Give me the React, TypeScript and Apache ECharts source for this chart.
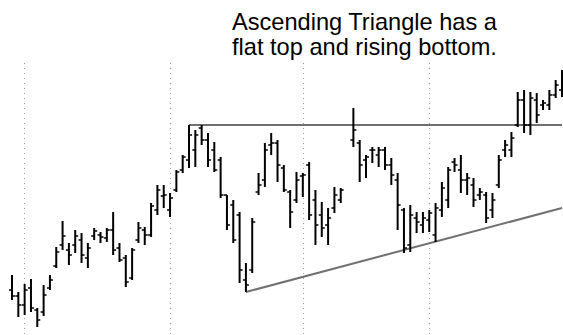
import React, { useEffect, useRef } from "react";
import * as echarts from "echarts";

// Daily OHLC bars (price units); null marks a missing session
const opens: (number | null)[] = [
  31.0, 30.4, 29.5, 31.2, 29.0, 28.8, 31.2, 33.4, 35.5, 35.0,
  35.5, 36.0, 34.2, 36.4, 36.5, 36.2, 37.0, 35.2, 34.2, 32.2,
  36.0, 37.0, 36.5, 39.0, 40.4, 39.0, 41.0, 43.0, 44.0, 45.0,
  47.2, 46.0, 45.0, 44.0, 40.5, 39.5, 38.5, 32.0, 33.0, 40.8,
  42.0, 45.5, 45.7, 43.2, 40.8, 40.0, 42.4, 43.5, 40.0, 38.5,
  37.5, 39.2, 40.0, null, 46.0, 45.7, 44.0, 45.0, 44.5, 45.0,
  43.5, 42.0, 39.0, 35.5, 38.2, 37.5, 38.0, 36.5, 39.0, 40.0,
  43.8, 43.0, 42.0, 41.5, 40.5, 40.5, 39.0, 41.5, 45.0, 45.0,
  47.5, 50.0, 47.5, 50.0, 49.5, 49.5, 50.5, 51.0,
];
const highs: (number | null)[] = [
  32.5, 30.8, 31.6, 32.1, 29.2, 31.5, 32.5, 35.3, 37.9, 35.7,
  37.0, 36.7, 35.7, 37.2, 36.8, 37.2, 38.8, 35.7, 34.5, 35.2,
  37.8, 37.3, 39.7, 41.5, 41.5, 40.7, 43.0, 44.5, 47.5, 47.0,
  47.5, 46.7, 45.8, 44.3, 40.5, 40.0, 38.8, 33.7, 38.2, 42.7,
  45.7, 46.7, 46.0, 43.5, 41.0, 42.8, 42.7, 43.8, 41.0, 39.8,
  39.2, 41.3, 41.2, null, 49.2, 46.0, 44.5, 45.3, 45.3, 45.3,
  44.2, 42.7, 39.2, 39.5, 38.8, 38.8, 39.0, 39.7, 41.8, 43.3,
  44.2, 44.5, 42.7, 42.2, 41.2, 40.8, 40.7, 44.5, 46.0, 46.8,
  50.8, 51.0, 50.8, 50.7, 50.0, 51.0, 52.0, 53.0,
];
const lows: (number | null)[] = [
  30.0, 28.3, 28.5, 28.8, 27.3, 28.4, 31.0, 33.2, 35.0, 33.5,
  34.7, 33.7, 33.2, 36.0, 35.7, 35.8, 34.5, 33.8, 31.3, 32.0,
  35.7, 35.5, 36.3, 38.5, 39.2, 38.3, 40.8, 42.7, 43.2, 43.3,
  45.5, 43.3, 42.8, 40.2, 37.0, 35.7, 31.7, 30.8, 32.7, 40.5,
  41.3, 44.5, 41.8, 40.8, 37.2, 39.7, 40.3, 38.0, 35.5, 36.3,
  35.5, 38.7, 39.7, null, 45.3, 41.8, 42.2, 43.7, 43.3, 43.0,
  41.5, 37.0, 34.7, 34.8, 36.7, 36.7, 36.8, 35.8, 38.3, 39.2,
  42.8, 40.7, 40.5, 39.3, 40.0, 37.7, 38.2, 41.2, 44.3, 44.3,
  47.3, 46.7, 46.5, 47.7, 49.0, 49.0, 50.2, 50.3,
];
const closes: (number | null)[] = [
  30.4, 29.5, 31.0, 29.2, 28.0, 30.5, 32.0, 34.8, 36.4, 34.5,
  36.4, 34.5, 35.2, 36.9, 36.3, 37.0, 35.0, 34.0, 31.8, 35.0,
  37.2, 36.5, 39.4, 41.0, 40.5, 40.2, 42.8, 44.3, 46.5, 46.5,
  46.0, 44.0, 43.0, 40.5, 37.5, 36.0, 33.0, 31.5, 37.8, 41.5,
  45.0, 45.7, 43.5, 41.0, 38.8, 42.0, 42.5, 38.5, 37.5, 37.2,
  38.2, 40.5, 41.0, null, 47.0, 43.5, 44.3, 45.0, 45.0, 43.5,
  42.5, 39.5, 35.2, 38.5, 37.8, 38.2, 38.7, 39.2, 41.2, 43.0,
  43.5, 42.0, 42.2, 40.0, 40.8, 38.2, 40.0, 44.0, 45.5, 46.2,
  50.0, 47.5, 50.2, 48.5, 49.7, 50.5, 51.5, 52.5,
];
const days: string[] = opens.map((_, i) => `D${i + 1}`);

// Indices of the dotted period separators
const periodStarts: number[] = [2, 25, 46, 66];

// Trend lines: [dayIndex, price]
const resistance: [number, number][] = [[28, 47.5], [87, 47.5]];
const support: [number, number][] = [[37, 30.8], [87, 39.2]];

const titleLines: string[] = ["Ascending Triangle has a", "flat top and rising bottom."];

export default function App() {
  const ref = useRef<HTMLDivElement>(null);
  useEffect(() => {
    if (!ref.current) return;
    const chart = echarts.init(ref.current, undefined, { renderer: "svg" });
    const ohlc: number[][] = [];
    opens.forEach((o, i) => {
      if (o === null) return;
      ohlc.push([i, o as number, highs[i] as number, lows[i] as number, closes[i] as number]);
    });
    const font = '23.6px "Liberation Sans", Arial, sans-serif';
    chart.setOption({
      animation: false,
      backgroundColor: "#ffffff",
      grid: { left: 12, right: 1, top: 63, bottom: 0, containLabel: false },
      xAxis: {
        type: "category",
        data: days,
        boundaryGap: false,
        axisLine: { show: false },
        axisTick: { show: false },
        axisLabel: { show: false },
        splitLine: {
          show: true,
          interval: (index: number) => periodStarts.includes(index),
          lineStyle: { color: "#a0a0a0", type: [1, 4], width: 1 },
        },
      },
      yAxis: {
        type: "value",
        min: 26.5,
        max: 53.7,
        show: false,
        splitLine: { show: false },
      },
      series: [
        {
          type: "line",
          data: resistance,
          symbol: "none",
          lineStyle: { color: "#707070", width: 2 },
          z: 1,
        },
        {
          type: "line",
          data: support,
          symbol: "none",
          lineStyle: { color: "#707070", width: 2 },
          z: 1,
        },
        {
          type: "custom",
          data: ohlc,
          encode: { x: 0, y: [1, 2, 3, 4] },
          z: 2,
          renderItem: (params: any, api: any) => {
            const idx = api.value(0);
            const pO = api.coord([idx, api.value(1)]);
            const pH = api.coord([idx, api.value(2)]);
            const pL = api.coord([idx, api.value(3)]);
            const pC = api.coord([idx, api.value(4)]);
            const x = pH[0];
            const st = { stroke: "#000", lineWidth: 2 };
            return {
              type: "group",
              children: [
                { type: "line", shape: { x1: x, y1: pH[1], x2: x, y2: pL[1] }, style: st },
                { type: "line", shape: { x1: x - 3, y1: pO[1], x2: x, y2: pO[1] }, style: { stroke: "#000", lineWidth: 1.5 } },
                { type: "line", shape: { x1: x, y1: pC[1], x2: x + 3, y2: pC[1] }, style: { stroke: "#000", lineWidth: 1.5 } },
              ],
            };
          },
        },
      ],
      graphic: titleLines.map((t, i) => ({
        type: "text",
        x: 232,
        y: 22 + i * 25,
        style: { text: t, font, fill: "#000", verticalAlign: "middle", align: "left" },
      })),
    });
    return () => chart.dispose();
  }, []);
  return (
    <div
      ref={ref}
      style={{ position: "absolute", left: 0, top: 0, width: 563, height: 335, background: "#fff" }}
    />
  );
}
